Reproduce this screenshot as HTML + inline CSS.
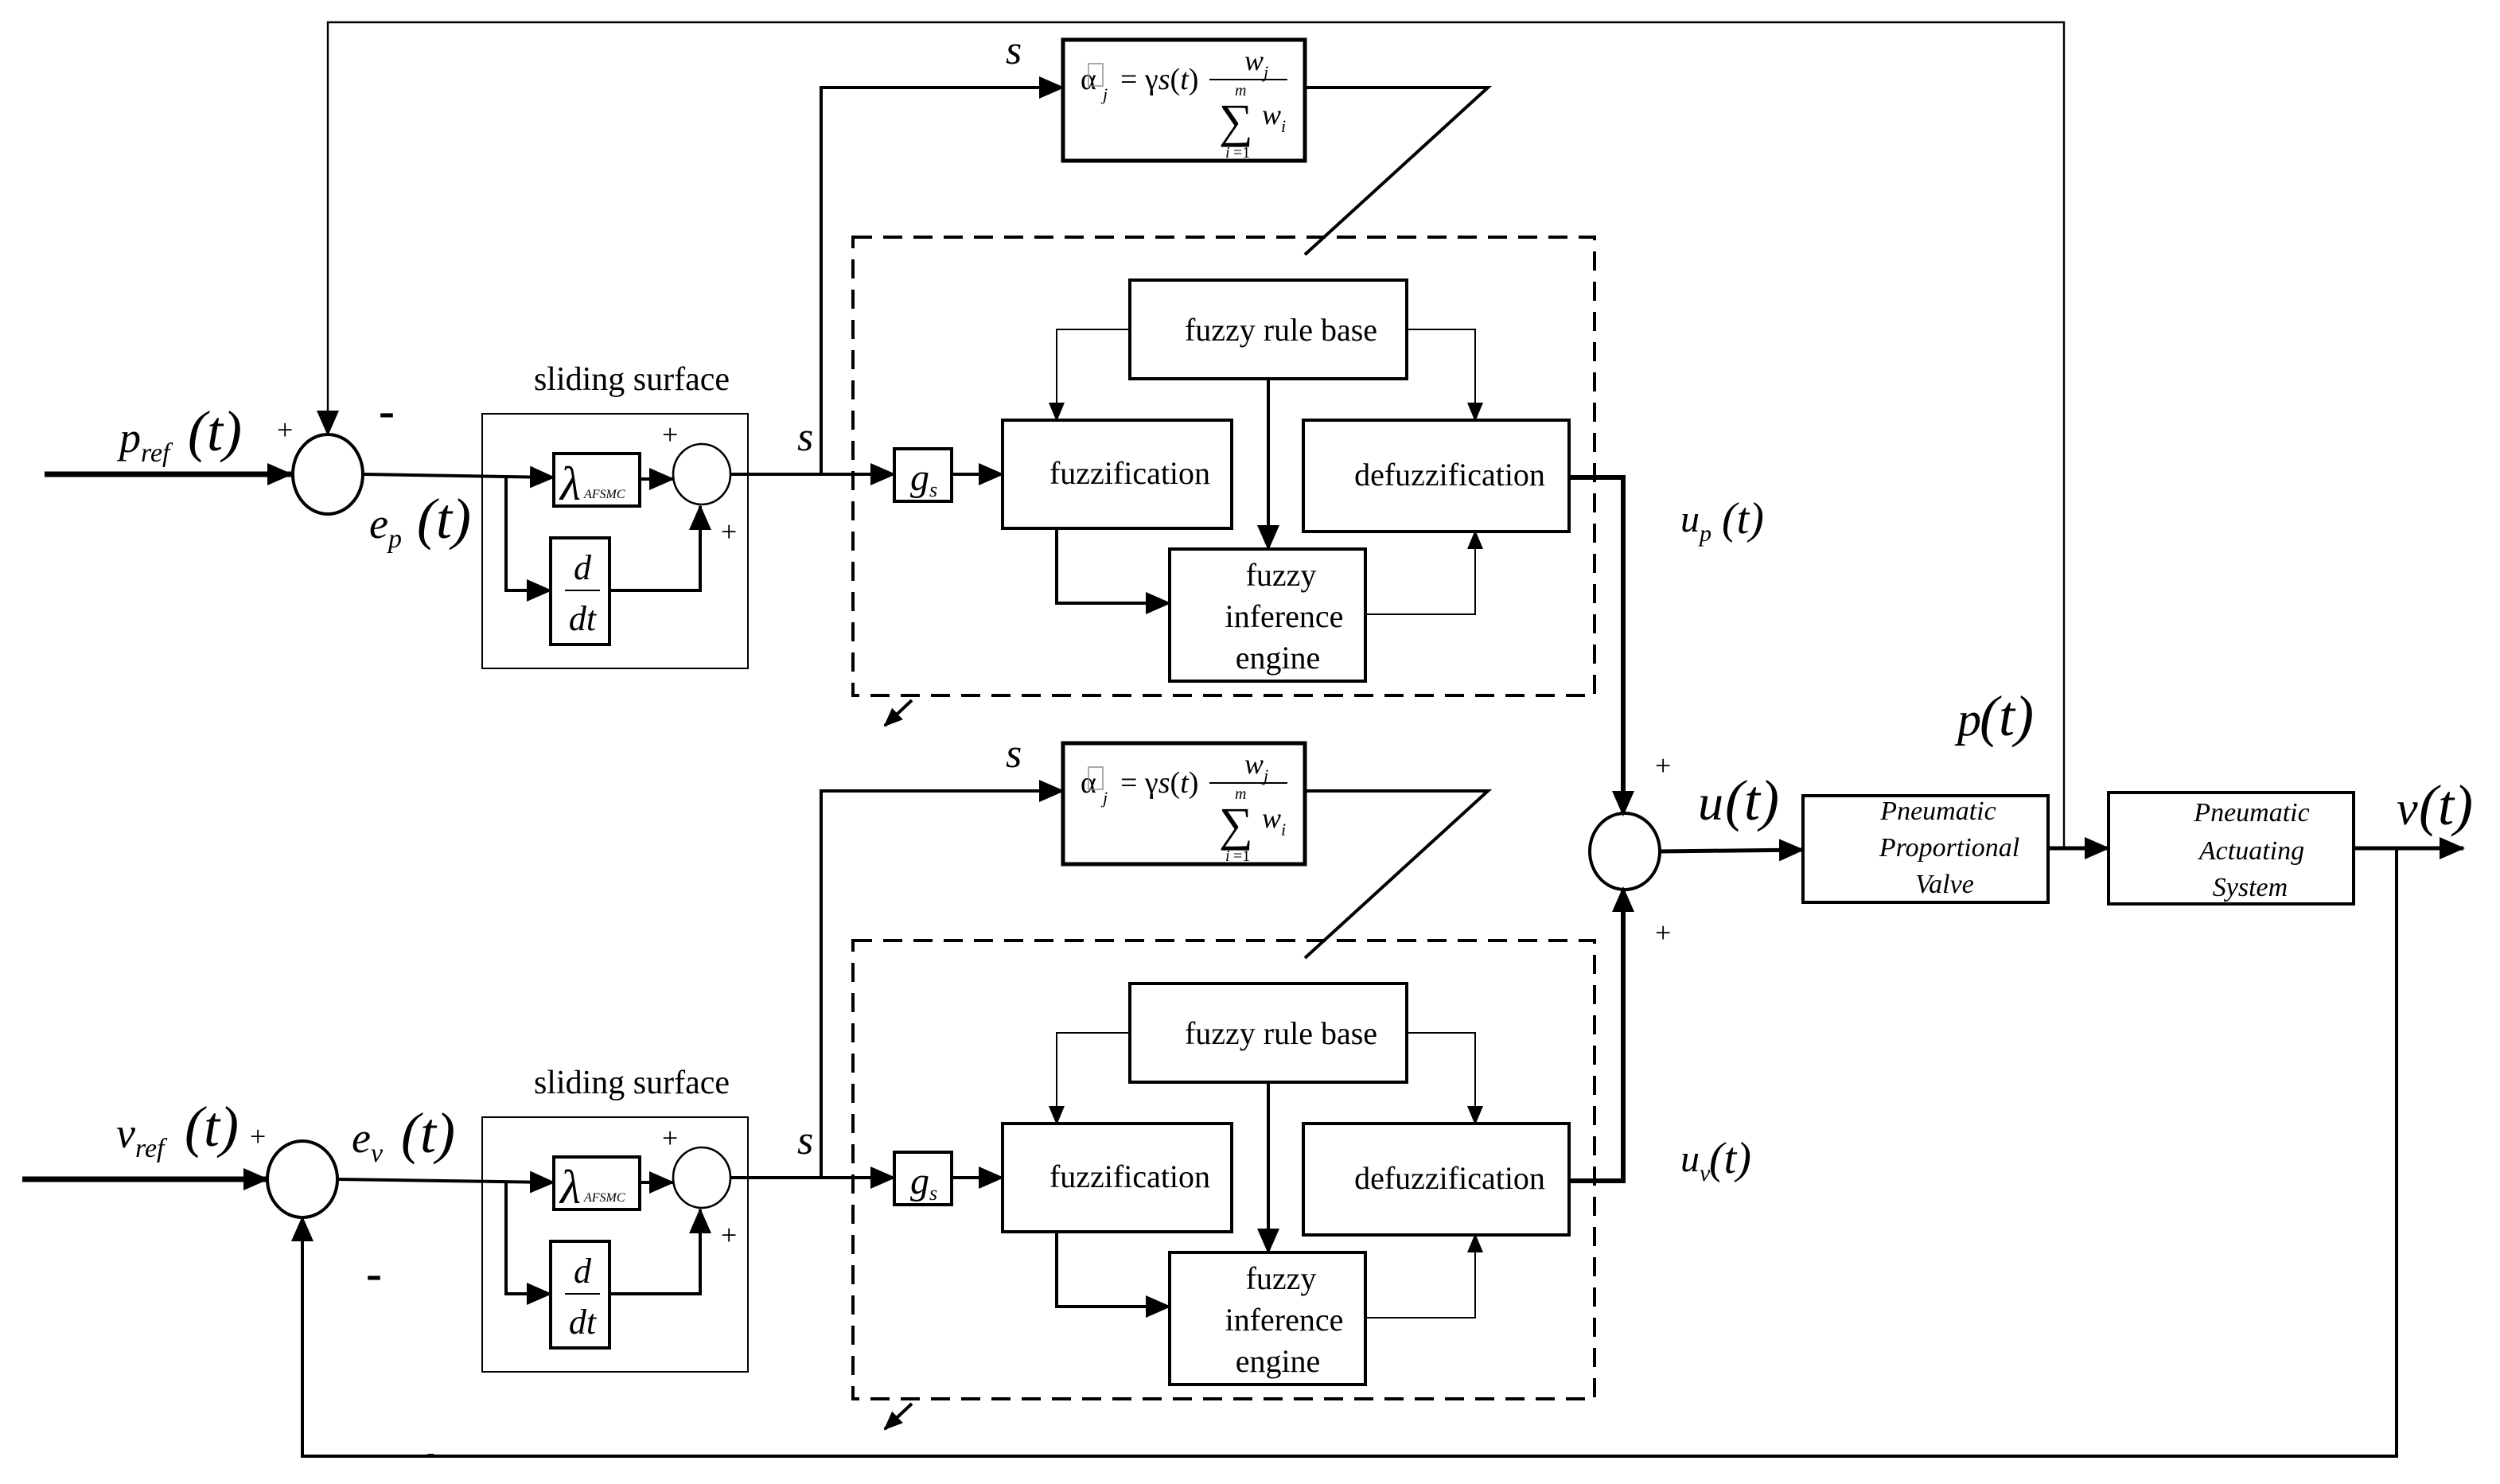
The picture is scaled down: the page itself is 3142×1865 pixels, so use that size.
<!DOCTYPE html>
<html><head><meta charset="utf-8"><style>
html,body{margin:0;padding:0;background:#fff}
svg{display:block}
</style></head><body>
<svg width="3142" height="1865" viewBox="0 0 1571 932.5" xmlns="http://www.w3.org/2000/svg" font-family="'Liberation Serif', 'Times New Roman', 'DejaVu Serif', serif">
<defs>
<marker id="a" markerUnits="userSpaceOnUse" markerWidth="16" markerHeight="14" refX="15" refY="7" orient="auto"><path d="M0,0 L16,7 L0,14 z" fill="#000"/></marker>
<marker id="s" markerUnits="userSpaceOnUse" markerWidth="12" markerHeight="10" refX="11" refY="5" orient="auto"><path d="M0,0 L12,5 L0,10 z" fill="#000"/></marker>
<g id="ctl" font-family="'Liberation Serif', 'Times New Roman', 'DejaVu Serif', serif">
  <rect x="668" y="25" width="152" height="76" fill="none" stroke="#000" stroke-width="2.5"/>
  <text x="679" y="56" font-size="19">α</text>
  <rect x="684" y="40" width="9" height="14" fill="none" stroke="#888" stroke-width="0.7"/>
  <text x="693" y="63" font-size="11" font-style="italic">j</text>
  <text x="704" y="56" font-size="19">= γ<tspan font-style="italic">s</tspan>(<tspan font-style="italic">t</tspan>)</text>
  <line x1="760" y1="50" x2="809" y2="50" stroke="#000" stroke-width="1"/>
  <text x="782" y="44" font-size="18" font-style="italic">w<tspan font-size="11" dy="5">j</tspan></text>
  <text x="776" y="60" font-size="10" font-style="italic">m</text>
  <text x="766" y="86" font-size="30">∑</text>
  <text x="793" y="78" font-size="18" font-style="italic">w<tspan font-size="11" dy="5">i</tspan></text>
  <text x="770" y="99" font-size="10" font-style="italic">i</text><text x="775" y="99" font-size="10">=1</text>
  <polyline points="820,55 935,55 820,160" fill="none" stroke="#000" stroke-width="2"/>
  <polyline points="516,298 516,55 668,55" fill="none" stroke="#000" stroke-width="2" marker-end="url(#a)"/>
  <text x="632" y="40" font-size="26" font-style="italic">s</text>
  <text x="397" y="245" font-size="21" text-anchor="middle">sliding surface</text>
  <rect x="303" y="260" width="167" height="160" fill="none" stroke="#000" stroke-width="1"/>
  <rect x="348" y="285" width="54" height="33" fill="none" stroke="#000" stroke-width="2"/>
  <text x="352" y="314" font-size="30" font-style="italic">λ</text>
  <text x="367" y="313" font-size="8" font-style="italic">AFSMC</text>
  <rect x="346" y="338" width="37" height="67" fill="none" stroke="#000" stroke-width="2"/>
  <text x="366" y="364" font-size="22" font-style="italic" text-anchor="middle">d</text>
  <line x1="355" y1="371" x2="377" y2="371" stroke="#000" stroke-width="1"/>
  <text x="366" y="396" font-size="22" font-style="italic" text-anchor="middle">dt</text>
  <ellipse cx="441" cy="298" rx="18" ry="19" fill="none" stroke="#000" stroke-width="1.3"/>
  <line x1="402" y1="301" x2="423" y2="301" stroke="#000" stroke-width="2" marker-end="url(#a)"/>
  <polyline points="318,300 318,371 346,371" fill="none" stroke="#000" stroke-width="2" marker-end="url(#a)"/>
  <polyline points="383,371 440,371 440,318" fill="none" stroke="#000" stroke-width="2" marker-end="url(#a)"/>
  <text x="416" y="279" font-size="18">+</text>
  <text x="453" y="340" font-size="18">+</text>
  <line x1="459" y1="298" x2="562" y2="298" stroke="#000" stroke-width="2" marker-end="url(#a)"/>
  <text x="501" y="283" font-size="26" font-style="italic">s</text>
  <rect x="536" y="149" width="466" height="288" fill="none" stroke="#000" stroke-width="2" stroke-dasharray="12,7"/>
  <line x1="573" y1="440" x2="556" y2="456" stroke="#000" stroke-width="2" marker-end="url(#s)"/>
  <rect x="562" y="282" width="36" height="33" fill="none" stroke="#000" stroke-width="2"/>
  <text x="572" y="308" font-size="24" font-style="italic">g<tspan font-size="13" dy="4">s</tspan></text>
  <line x1="598" y1="298" x2="630" y2="298" stroke="#000" stroke-width="2" marker-end="url(#a)"/>
  <rect x="630" y="264" width="144" height="68" fill="none" stroke="#000" stroke-width="2"/>
  <text x="710" y="304" font-size="20" text-anchor="middle">fuzzification</text>
  <rect x="710" y="176" width="174" height="62" fill="none" stroke="#000" stroke-width="2"/>
  <text x="805" y="214" font-size="20" text-anchor="middle">fuzzy rule base</text>
  <rect x="819" y="264" width="167" height="70" fill="none" stroke="#000" stroke-width="2"/>
  <text x="911" y="305" font-size="20" text-anchor="middle">defuzzification</text>
  <rect x="735" y="345" width="123" height="83" fill="none" stroke="#000" stroke-width="2"/>
  <text x="805" y="368" font-size="20" text-anchor="middle">fuzzy</text>
  <text x="807" y="394" font-size="20" text-anchor="middle">inference</text>
  <text x="803" y="420" font-size="20" text-anchor="middle">engine</text>
  <polyline points="710,207 664,207 664,264" fill="none" stroke="#000" stroke-width="1" marker-end="url(#s)"/>
  <polyline points="884,207 927,207 927,264" fill="none" stroke="#000" stroke-width="1" marker-end="url(#s)"/>
  <line x1="797" y1="238" x2="797" y2="345" stroke="#000" stroke-width="2" marker-end="url(#a)"/>
  <polyline points="664,332 664,379 735,379" fill="none" stroke="#000" stroke-width="2" marker-end="url(#a)"/>
  <polyline points="858,386 927,386 927,334" fill="none" stroke="#000" stroke-width="1" marker-end="url(#s)"/>
</g>
</defs>
<use href="#ctl"/>
<use href="#ctl" transform="translate(0,442)"/>

<line x1="28" y1="298" x2="183" y2="298" stroke="#000" stroke-width="3.5" marker-end="url(#a)"/>
<ellipse cx="206" cy="298" rx="22" ry="25" fill="none" stroke="#000" stroke-width="2"/>
<line x1="229" y1="298" x2="348" y2="300" stroke="#000" stroke-width="2" marker-end="url(#a)"/>
<polyline points="1297,533 1297,14 206,14 206,273" fill="none" stroke="#000" stroke-width="1.2" marker-end="url(#a)"/>
<text x="75" y="284" font-size="27" font-style="italic">p<tspan font-size="17" dy="6">ref</tspan></text>
<text x="118" y="283" font-size="36" font-style="italic">(t)</text>
<text x="174" y="276" font-size="18">+</text>
<text x="238" y="268" font-size="30" font-weight="bold">-</text>
<text x="232" y="338" font-size="27" font-style="italic">e<tspan font-size="17" dy="6">p</tspan></text>
<text x="262" y="338" font-size="36" font-style="italic">(t)</text>

<line x1="14" y1="741" x2="168" y2="741" stroke="#000" stroke-width="3.5" marker-end="url(#a)"/>
<ellipse cx="190" cy="741" rx="22" ry="24" fill="none" stroke="#000" stroke-width="2"/>
<line x1="212" y1="741" x2="348" y2="743" stroke="#000" stroke-width="2" marker-end="url(#a)"/>
<polyline points="1506,533 1506,915 190,915 190,765" fill="none" stroke="#000" stroke-width="2" marker-end="url(#a)"/>
<text x="73" y="721" font-size="27" font-style="italic">v<tspan font-size="17" dy="6">ref</tspan></text>
<text x="116" y="720" font-size="36" font-style="italic">(t)</text>
<text x="157" y="720" font-size="18">+</text>
<text x="230" y="810" font-size="30" font-weight="bold">-</text>
<text x="268" y="918" font-size="16">-</text>
<text x="221" y="724" font-size="27" font-style="italic">e<tspan font-size="17" dy="6">v</tspan></text>
<text x="252" y="724" font-size="36" font-style="italic">(t)</text>

<polyline points="986,300 1020,300 1020,512" fill="none" stroke="#000" stroke-width="3" marker-end="url(#a)"/>
<polyline points="986,742 1020,742 1020,558" fill="none" stroke="#000" stroke-width="3" marker-end="url(#a)"/>
<ellipse cx="1021" cy="535" rx="22" ry="24" fill="none" stroke="#000" stroke-width="2"/>
<text x="1040" y="487" font-size="18">+</text>
<text x="1040" y="592" font-size="18">+</text>
<text x="1056" y="334" font-size="24" font-style="italic">u<tspan font-size="15" dy="6">p</tspan></text>
<text x="1082" y="335" font-size="28" font-style="italic">(t)</text>
<text x="1056" y="736" font-size="24" font-style="italic">u<tspan font-size="15" dy="6">v</tspan></text>
<text x="1074" y="737" font-size="28" font-style="italic">(t)</text>

<line x1="1043" y1="535" x2="1133" y2="534" stroke="#000" stroke-width="2.5" marker-end="url(#a)"/>
<text x="1067" y="515" font-size="32" font-style="italic">u</text><text x="1084" y="515" font-size="36" font-style="italic">(t)</text>
<rect x="1133" y="500" width="154" height="67" fill="none" stroke="#000" stroke-width="2"/>
<text x="1218" y="515" font-size="17" font-style="italic" text-anchor="middle">Pneumatic</text>
<text x="1225" y="538" font-size="17" font-style="italic" text-anchor="middle">Proportional</text>
<text x="1222" y="561" font-size="17" font-style="italic" text-anchor="middle">Valve</text>
<line x1="1287" y1="533" x2="1325" y2="533" stroke="#000" stroke-width="2.5" marker-end="url(#a)"/>
<text x="1230" y="462" font-size="30" font-style="italic">p</text><text x="1244" y="462" font-size="36" font-style="italic">(t)</text>
<rect x="1325" y="498" width="154" height="70" fill="none" stroke="#000" stroke-width="2"/>
<text x="1415" y="516" font-size="17" font-style="italic" text-anchor="middle">Pneumatic</text>
<text x="1415" y="540" font-size="17" font-style="italic" text-anchor="middle">Actuating</text>
<text x="1414" y="563" font-size="17" font-style="italic" text-anchor="middle">System</text>
<line x1="1479" y1="533" x2="1548" y2="533" stroke="#000" stroke-width="2.5" marker-end="url(#a)"/>
<text x="1506" y="518" font-size="30" font-style="italic">v</text><text x="1520" y="518" font-size="36" font-style="italic">(t)</text>
</svg>
</body></html>
